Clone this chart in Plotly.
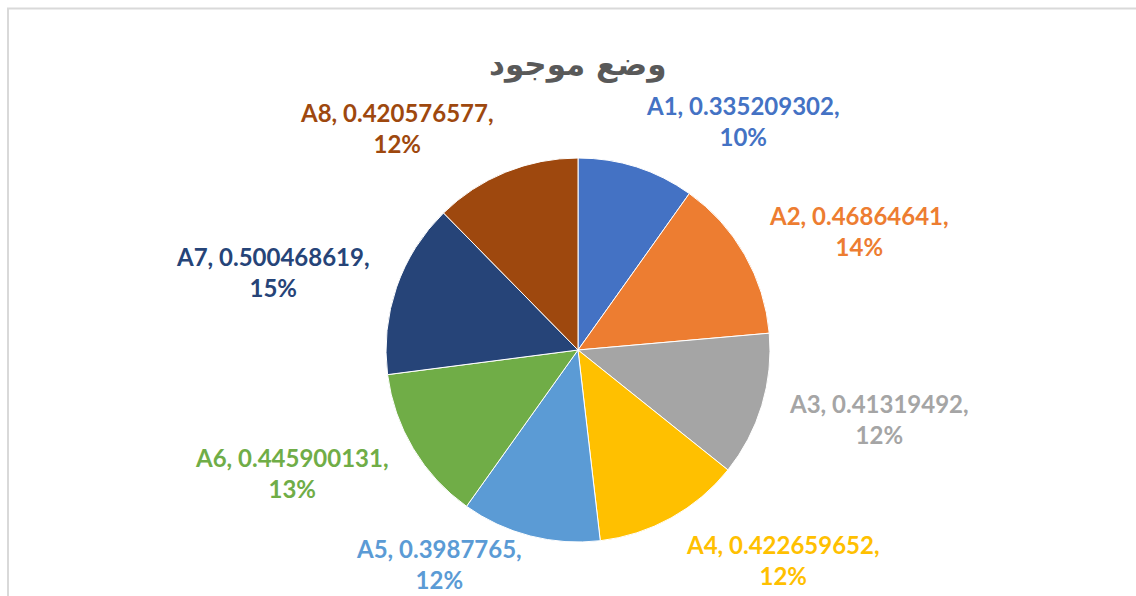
import math
import plotly.graph_objects as go

categories = ["A1", "A2", "A3", "A4", "A5", "A6", "A7", "A8"]
values = [0.335209302, 0.46864641, 0.41319492, 0.422659652, 0.3987765, 0.445900131, 0.500468619, 0.420576577]
value_labels = ["0.335209302", "0.46864641", "0.41319492", "0.422659652", "0.3987765", "0.445900131", "0.500468619", "0.420576577"]
colors = ["#4472C4", "#ED7D31", "#A5A5A5", "#FFC000", "#5B9BD5", "#70AD47", "#264478", "#9E480E"]
title_text = "وضع موجود"

W, H = 1136, 596
cx, cy, R = 578, 350, 192  # pie centre and radius in pixels

fig = go.Figure()
fig.add_trace(go.Pie(
    labels=categories, values=values, sort=False, direction="clockwise", rotation=0,
    marker=dict(colors=colors, line=dict(color="white", width=1)),
    textinfo="none", hoverinfo="label+value+percent", showlegend=False,
    domain=dict(x=[(cx - R) / W, (cx + R) / W], y=[1 - (cy + R) / H, 1 - (cy - R) / H]),
))

total = sum(values)
cum = 0.0
annotations = []
for cat, v, vl, col in zip(categories, values, value_labels, colors):
    mid = (cum + v / 2) / total
    cum += v
    ang = 2 * math.pi * mid
    dx, dy = math.sin(ang), -math.cos(ang)
    px = cx + dx * (R + 26)
    py = min(cy + dy * (R + 48), 564)  # keep labels inside the frame
    pct = round(100 * v / total)
    annotations.append(dict(
        x=px / W, y=1 - py / H, xref="paper", yref="paper",
        text=f"<b>{cat}, {vl},<br>{pct}%</b>", showarrow=False,
        xanchor="left" if dx >= 0 else "right", yanchor="middle", align="center",
        font=dict(family="Lato, Carlito, Calibri, sans-serif", size=24, color=col),
    ))

annotations.append(dict(
    x=578 / W, y=1 - 65 / H, xref="paper", yref="paper", text=f"<b>{title_text}</b>",
    showarrow=False, xanchor="center", yanchor="middle",
    font=dict(family="DejaVu Sans, sans-serif", size=31, color="#595959"),
))

fig.update_layout(
    width=W, height=H, margin=dict(l=0, r=0, t=0, b=0),
    paper_bgcolor="white", plot_bgcolor="white",
    annotations=annotations,
    shapes=[dict(type="path", xref="paper", yref="paper",
                 path=f"M {8/W} 0 L {8/W} {1-8.5/H} L 1 {1-8.5/H}",
                 line=dict(color="#D9D9D9", width=2))],
)

fig.write_html("out.html")
